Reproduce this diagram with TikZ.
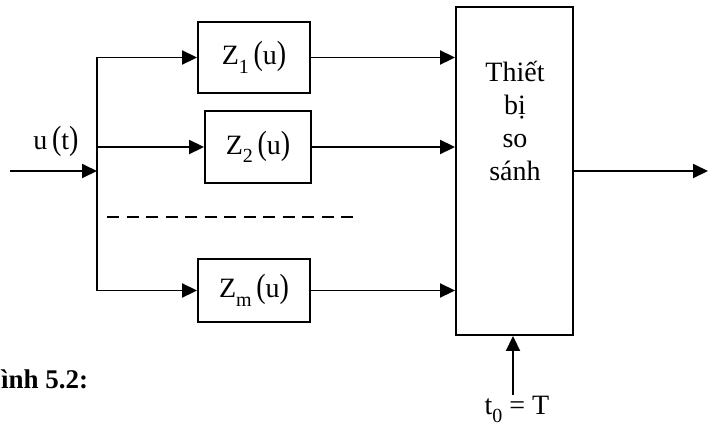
\documentclass[tikz,border=0pt]{standalone}
\usepackage{fontspec}
\setmainfont{Liberation Serif}
\usepackage{graphicx}
\usetikzlibrary{positioning, arrows.meta}

\newcommand{\subs}[1]{\raisebox{-0.3em}{\fontsize{20}{20}\selectfont #1}}
\newcommand{\lpar}{\scalebox{1}[1.2]{(}}
\newcommand{\rpar}{\scalebox{1}[1.2]{)}}

\begin{document}
\begin{tikzpicture}[
    x=1pt, y=-1pt,
    blk/.style={draw, line width=1.9pt, inner sep=0pt, font=\fontsize{28}{33}\selectfont},
    txt/.style={inner sep=0pt, font=\fontsize{28}{33}\selectfont},
    wire/.style={line width=1.9pt},
    arr/.style={-{Triangle[length=15pt, width=14pt]}, line width=1.9pt},
]
\useasboundingbox (0,0) rectangle (708,426);

% Filter blocks
\node[blk, minimum width=112pt, minimum height=71pt] (z1) at (254,57.5) {Z\subs{1}\,\lpar u\rpar};
\node[blk, minimum width=106pt, minimum height=72pt] (z2) at (258,147) {Z\subs{2}\,\lpar u\rpar};
\node[blk, minimum width=112pt, minimum height=63pt] (zm) at (254,290.5) {Z\subs{m}\,\lpar u\rpar};

% Comparator
\node[blk, minimum width=117pt, minimum height=328pt] (cmp) at (514.5,171) {};
\node[txt, align=center] (cmptxt) at (515,121) {Thiết\\bị\\so\\sánh};

% Input and bus
\coordinate (in) at (10,171);
\coordinate (bus) at (97,171);
\node[txt] (ut) at (56,141) {u\,\lpar t\rpar};
\draw[arr] (in) -- (bus);
\draw[arr] (bus) -- (bus |- z1.west) -- (z1.west);
\draw[arr] (bus) -- (bus |- zm.west) -- (zm.west);
\draw[arr] (bus |- z2.west) -- (z2.west);

% Dashed separator
\coordinate (dl) at (107,217);
\coordinate (dr) at (355,217);
\draw[wire, dash pattern=on 12pt off 7.5pt] (dl) -- (dr);

% Block outputs to comparator
\draw[arr] (z1.east) -- (z1.east -| cmp.west);
\draw[arr] (z2.east) -- (z2.east -| cmp.west);
\draw[arr] (zm.east) -- (zm.east -| cmp.west);

% Output and sampling instant
\coordinate (out) at (708,171);
\draw[arr] (cmp.east) -- (out);
\coordinate (clk) at (513,395);
\draw[arr] (clk) -- (clk |- cmp.south);
\node[txt, below=1pt of clk, xshift=4pt] (t0) {t\subs{0} = T};

% Caption
\node[inner sep=0pt, anchor=base west, font=\fontsize{27}{30}\selectfont\bfseries] (cap) at (1,388) {ình 5.2:};

\end{tikzpicture}
\end{document}
